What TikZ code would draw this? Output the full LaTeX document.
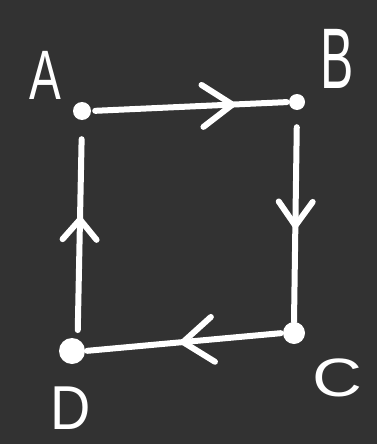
\documentclass[tikz,border=0pt]{standalone}
\usepackage{fontspec}
\setmainfont{Liberation Sans}
\usetikzlibrary{arrows.meta,decorations.markings}
\definecolor{bg}{HTML}{323232}
\tikzset{
  dot/.style={circle,fill=white,inner sep=0pt},
  edge/.style={draw=white,line width=6pt,line cap=round},
  midtip/.style 2 args={postaction={decorate},
    decoration={markings,mark=at position #1 with {\arrow[white,line width=6pt]{#2}}}},
  lbl/.style={text=white,inner sep=0pt}
}
\begin{document}
\begin{tikzpicture}[x=1pt,y=-1pt]
\fill[bg] (0,0) rectangle (377,444);
\useasboundingbox (0,0) rectangle (377,444);
\node[dot,minimum size=18pt] (A) at (82,111) {};
\node[dot,minimum size=16pt] (B) at (297,102) {};
\node[dot,minimum size=22pt] (C) at (294,333) {};
\node[dot,minimum size=26pt] (D) at (72,351) {};
\draw[edge,shorten <=4pt,shorten >=2pt,
  midtip={0.73}{Straight Barb[length=30pt,width=42pt,round]}] (A.east) -- (B.west);
\draw[edge,shorten <=17pt,
  midtip={0.56}{Straight Barb[length=24pt,width=34pt,round]}] (B.south) -- (C.north);
\draw[edge,shorten <=2pt,shorten >=2pt,
  midtip={0.52}{Straight Barb[length=30pt,width=45pt,round]}] (C.west) -- (D.east);
\draw[edge,shorten <=9pt,shorten >=19pt,
  midtip={0.56}{Straight Barb[length=20pt,width=34pt,round]}] (D.65) -- (A.south);
\node[lbl,font=\fontsize{70}{70}\selectfont] (la) at (45,75) {\scalebox{0.68}[1]{A}};
\node[lbl,font=\fontsize{86}{86}\selectfont] (lb) at (337,59) {\scalebox{0.58}[1]{B}};
\node[lbl,font=\fontsize{54}{54}\selectfont] (lc) at (337,378) {\scalebox{1.28}[1]{C}};
\node[lbl,font=\fontsize{62}{62}\selectfont] (ld) at (71,408) {\scalebox{0.9}[1]{D}};
\end{tikzpicture}
\end{document}
